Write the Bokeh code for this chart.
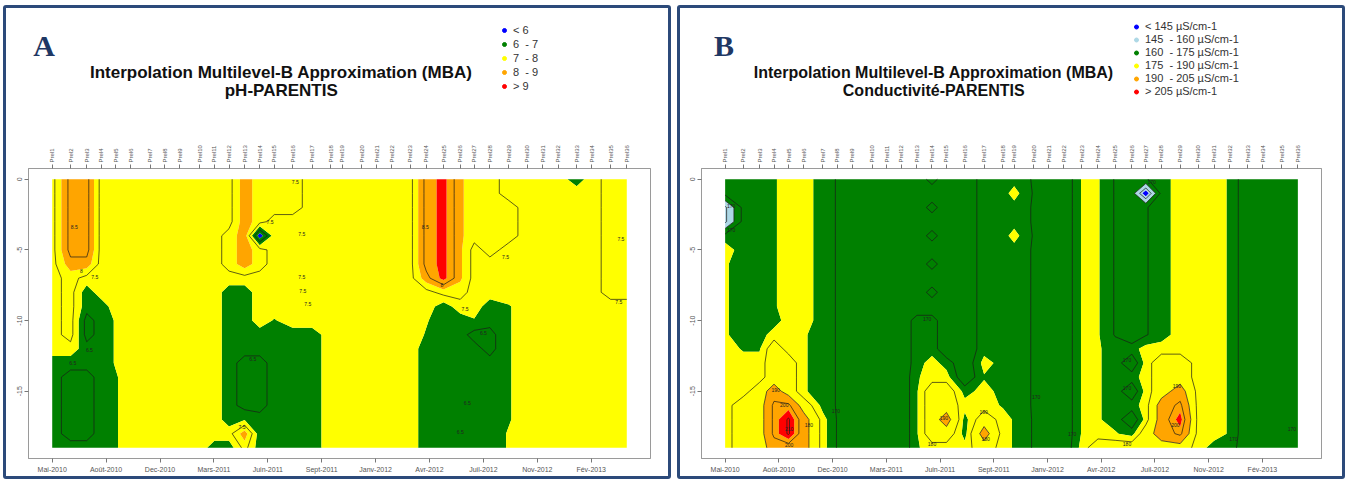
import numpy as np
from bokeh.plotting import figure
from bokeh.models import LinearAxis, FixedTicker, Label, Legend, LegendItem, Range1d
from bokeh.layouts import row, column
from bokeh.embed import file_html
from bokeh.resources import INLINE
from bokeh.core.properties import value

# ---------------- shared axes data ----------------
PROFILE_LABELS = ["Prel1", "Prel2", "Prel3", "Prel4", "Prel5", "Prel6", "Prel7", "Prel8", "Prel9",
                  "Prel10", "Prel11", "Prel12", "Prel13", "Prel14", "Prel15", "Prel16", "Prel17",
                  "Prel18", "Prel19", "Prel20", "Prel21", "Prel22", "Prel23", "Prel24", "Prel25",
                  "Prel26", "Prel27", "Prel28", "Prel29", "Prel30", "Prel31", "Prel32", "Prel33",
                  "Prel34", "Prel35", "Prel36"]
# profile dates, in days after the first tick (Mai-2010)
PROFILE_DAYS = [0, 34, 64, 91, 118, 146, 182, 209, 237, 274, 301, 328, 357, 385, 412, 446, 482, 517,
                538, 574, 602, 630, 664, 694, 726, 757, 783, 812, 847, 881, 910, 939, 973, 1001, 1036, 1066]
DEPTHS = [0, -1, -2, -3, -4, -5, -6, -7, -8, -9, -10, -11, -12, -13, -14, -15, -16, -17, -18, -19]
DATE_TICKS = [0, 100, 200, 300, 400, 500, 600, 700, 800, 900, 1000]
DATE_LABELS = ["Mai-2010", "Août-2010", "Dec-2010", "Mars-2011", "Juin-2011", "Sept-2011",
               "Janv-2012", "Avr-2012", "Juil-2012", "Nov-2012", "Fév-2013"]
DEPTH_TICKS = [0, -5, -10, -15]

# ---------------- panel A : pH ----------------
PH_LEVELS = [5, 6, 7, 8, 9, 10]
PH_COLORS = ["#0000FF", "#008000", "#FFFF00", "#FFA500", "#FF0000"]
PH_LEGEND = ["< 6", "6  - 7", "7  - 8", "8  - 9", "> 9"]
PH_LINE_LEVELS = [6.5, 7.5, 8.5]
PH_CODE = {"b": 5.6, "g": 6.3, "G": 6.7, "h": 6.95, "e": 7.05, "y": 7.3, "Y": 7.7,
           "p": 8.1, "o": 8.3, "O": 8.7, "r": 9.2}
# one string per profile, depth 0 m ... -19 m
PH_PROFILES = [
    "yyyyyyyyyyyyyGGGGGGG",  # Prel1
    "OOOOOOoYYYYYyGgggggG",
    "OOOOOOoyGGggGGgggggG",
    "yyyyyyyyyGGGGGGGGGGG",
    "yyyyyyyyyyeeeehhhhhh",
    "yyyyyyyyyyyyyyyyyyyy",
    "yyyyyyyyyyyyyyyyyyyy",
    "yyyyyyyyyyyyyyyyyyyy",
    "yyyyyyyyyyyyyyyyyyyy",
    "yyyyyyyyyyyyyyyyyyyy",  # Prel10
    "yyyyyyyyyyyyyyyyyyyG",
    "yyyyYYYyGGGGGGGGGGyG",
    "oooooooyGGGGGgggghoY",
    "YYYYbYYyyyyGGggggGGG",
    "YYYyyyyyyyhGGGGGGGGG",
    "YYYyyyyyyyyGGGGGGGGG",
    "yyyyyyyyyyyGGGGGGGGG",
    "yyyyyyyyyyyyyyyyyyyy",
    "yyyyyyyyyyyyyyyyyyyy",
    "yyyyyyyyyyyyyyyyyyyy",  # Prel20
    "yyyyyyyyyyyyyyyyyyyy",
    "yyyyyyyyyyyyyyyyyyyy",
    "yyyyyyyyyyyyyyyyyyyy",
    "OOOOOOOoyyehGGGGGGGG",
    "rrrrrrrrYGGGGGGGGGGG",
    "ppppppppYyGGGGGGGGGG",
    "YYYYYyyyyyhgGGGGGGGG",
    "YYYYYYyyyGGggGGGGGGG",
    "yyYYYyyyyhhhhhhhhhee",
    "yyyyyyyyyyyyyyyyyyyy",  # Prel30
    "yyyyyyyyyyyyyyyyyyyy",
    "yyyyyyyyyyyyyyyyyyyy",
    "Gyyyyyyyyyyyyyyyyyyy",
    "yyyyyyyyyyyyyyyyyyyy",
    "YYYYYYYYYyyyyyyyyyyy",
    "YYYYYYYYYyyyyyyyyyyy",  # Prel36
]
# contour-line labels (day, depth, text)
PH_CL_DAY = [41, 54, 79, 69, 38, 404, 451, 463, 463, 465, 474, 372, 352,
             692, 723, 766, 841, 1055, 1051, 800, 770, 757]
PH_CL_DEPTH = [-3.4, -6.5, -6.9, -12.1, -13.0, -3.0, -0.2, -3.9, -6.9, -7.9, -8.8, -12.7, -17.5,
               -3.4, -7.5, -9.2, -5.5, -4.2, -8.7, -10.9, -15.8, -17.9]
PH_CL_TEXT = ["8.5", "8", "7.5", "6.5", "6.5", "7.5", "7.5", "7.5", "7.5", "7.5", "7.5", "6.5", "7.5",
              "8.5", "8", "7.5", "7.5", "7.5", "7.5", "6.5", "6.5", "6.5"]

# ---------------- panel B : conductivity ----------------
CO_LEVELS = [130, 145, 160, 175, 190, 205, 215]
CO_COLORS = ["#0000FF", "#ADD8E6", "#008000", "#FFFF00", "#FFA500", "#FF0000"]
CO_LEGEND = ["< 145 µS/cm-1", "145  - 160 µS/cm-1", "160  - 175 µS/cm-1",
             "175  - 190 µS/cm-1", "190  - 205 µS/cm-1", "> 205 µS/cm-1"]
CO_LINE_LEVELS = [150, 160, 170, 180, 190, 200, 210]
CO_CODE = {"b": 138, "m": 148, "l": 153, "g": 165, "k": 169.5, "G": 173, "h": 174.5,
           "e": 175.5, "y": 177, "Y": 185, "o": 195, "O": 202, "R": 208, "r": 211}
CO_PROFILES = [
    "GGmmGyeeeeeeyyyyyyyy",  # Prel1
    "GGGGGGGGGGGGhyyyYYYY",
    "GGGGGGGGGGGGhyyYYYYY",
    "hhhhhhhhhhGyYYYoOOOo",
    "yyyyyyyyyyyyyYYYOrro",
    "yyyyyyyyyyyeeeeeYooo",
    "GGGGGGGGGGGGGGGGGyyy",
    "kkkkkkkkkkkkkkkkkkkk",
    "gggggggggggggggggggg",
    "gggggggggggggggggggg",  # Prel10
    "gggggggggggggggggggg",
    "gggggggggggggggggggg",
    "ggggggggggGGGGhhhhhh",
    "GgGgGgGgGgGGGyyYYYYy",
    "gggggggggggggGyYYoYy",
    "gggggggggggggggGyGGy",
    "GGGGGGGGGGGGGyhyyYoY",
    "GGGGGGGGGGGGGGGGhyyy",
    "GyGGyGGGGGGGGGGGGhhh",
    "kkkkkkkkkkkkkkkkkkkk",  # Prel20
    "gggggggggggggggggggg",
    "gggggggggggggggggggg",
    "eeeeeeeeeeeeeeeeeeey",
    "eeeeeeeeeeeeeeeeeeyY",
    "kkkkkkkkkkkkGGGGGGeY",
    "ggggggggggggGgGgGgGY",
    "kbkkkkkkkkkkyyyyyyYY",
    "GGGGGGGGGGGGyYYYoooY",
    "yyyyyyyyyyyyyYYoOROY",
    "yyyyyyyyyyyyyyyyyyyy",  # Prel30
    "yyyyyyyyyyyyyyyyyyyG",
    "hhhhhhhhhhhhhhhhhhhG",
    "gggggggggggggggggggg",
    "gggggggggggggggggggg",
    "gggggggggggggggggggg",
    "gggggggggggggggggggg",  # Prel36
]
CO_CL_DAY = [11, 11, 94, 110, 119, 119, 156, 206, 376, 407, 385, 485, 481,
             794, 748, 748, 748, 841, 838, 579, 646, 946, 1055]
CO_CL_DEPTH = [-1.9, -3.6, -14.9, -16.0, -17.7, -18.8, -17.4, -16.4, -9.9, -16.9, -18.7, -18.4, -16.5,
               -0.2, -12.8, -14.8, -18.7, -14.6, -17.4, -15.4, -18.0, -18.4, -17.7]
CO_CL_TEXT = ["170", "170", "190", "200", "210", "200", "180", "170", "170", "190", "180", "180", "190",
              "170", "170", "170", "180", "190", "200", "170", "170", "170", "170"]

XR = (-44, 1110)
YR = (-19.76, 0.76)
FIG_W = 662
HEAD_H = 130
MAIN_H = 338
FONT = "Liberation Sans"


def grid(profiles, code):
    z = np.array([[code[c] for c in col] for col in profiles], dtype=float).T  # (depth, profile)
    y = np.array(DEPTHS, dtype=float)
    order = np.argsort(y)
    return np.array(PROFILE_DAYS, dtype=float), y[order], z[order]


def make_header(letter, subtitle, letter_c, title_cx, title_fs, legend_labels, colors,
                legend_lt, row_h):
    # pixel-like coordinates: x from panel's inner left, y from panel's inner top
    h = figure(width=FIG_W, height=HEAD_H, x_range=Range1d(0, FIG_W), y_range=Range1d(HEAD_H, 0),
               output_backend="svg", toolbar_location=None, tools="", min_border=0,
               min_border_left=0, min_border_right=0, min_border_top=0, min_border_bottom=0,
               x_axis_type=None, y_axis_type=None)
    h.outline_line_color = None
    h.grid.visible = False
    h.background_fill_color = "white"
    h.border_fill_color = "white"
    h.add_layout(Label(x=letter_c[0], y=letter_c[1], text=letter,
                       text_align="center", text_baseline="middle",
                       text_font="Liberation Serif", text_font_size="30px",
                       text_font_style="bold", text_color="#1f3864"))
    for txt, py in (("Interpolation Multilevel-B Approximation (MBA)", 64), (subtitle, 82)):
        h.add_layout(Label(x=title_cx, y=py, text=txt,
                           text_align="center", text_baseline="middle",
                           text_font=FONT, text_font_size=title_fs,
                           text_font_style="bold", text_color="#111111"))
    items = []
    for lab, col in zip(legend_labels, colors):
        r = h.scatter(x=[np.nan], y=[np.nan], marker="circle", size=5,
                      fill_color=col, line_color=col)
        items.append(LegendItem(label=value(lab), renderers=[r]))
    n = len(legend_labels)
    left, top = legend_lt
    leg = Legend(items=items, location=(left, HEAD_H - (top + n * row_h)),
                 orientation="vertical", border_line_color=None, background_fill_alpha=0,
                 padding=0, margin=0, spacing=0,
                 glyph_width=10, glyph_height=row_h, label_height=row_h,
                 label_standoff=4, label_text_font=FONT, label_text_font_size="11px",
                 label_text_color="#333333")
    h.add_layout(leg)
    return h


def make_main(profiles, code, levels, colors, line_levels, border_lr, cl_day, cl_depth, cl_text):
    p = figure(width=FIG_W, height=MAIN_H, x_range=Range1d(*XR), y_range=Range1d(*YR),
               output_backend="svg", toolbar_location=None, tools="",
               min_border_left=border_lr[0], min_border_right=border_lr[1],
               min_border_top=30, min_border_bottom=18)
    p.xgrid.visible = False
    p.ygrid.visible = False
    p.outline_line_color = "#9a9a9a"
    p.outline_line_width = 1
    p.background_fill_color = "white"
    p.border_fill_color = "white"

    x, y, z = grid(profiles, code)
    p.contour(x, y, z, levels=levels, fill_color=colors)
    p.contour(x, y, z, levels=line_levels, line_color="#1a1a1a", line_width=0.7)
    p.text(x=cl_day, y=cl_depth, text=cl_text, text_font=value(FONT),
           text_font_size=value("5px"), text_align="center", text_baseline="middle",
           text_color="#222222")

    xa = p.xaxis[0]
    xa.ticker = FixedTicker(ticks=DATE_TICKS)
    xa.major_label_overrides = {t: lab for t, lab in zip(DATE_TICKS, DATE_LABELS)}
    ya = p.yaxis[0]
    ya.ticker = FixedTicker(ticks=DEPTH_TICKS)
    ya.major_label_overrides = {t: str(t) for t in DEPTH_TICKS}
    ya.major_label_orientation = "vertical"
    ta = LinearAxis(ticker=FixedTicker(ticks=PROFILE_DAYS),
                    major_label_overrides={d: lab for d, lab in zip(PROFILE_DAYS, PROFILE_LABELS)})
    ta.major_label_orientation = "vertical"
    p.add_layout(ta, "above")
    for ax, fs in ((xa, "7px"), (ya, "7px"), (ta, "6px")):
        ax.axis_line_color = "#9a9a9a"
        ax.major_tick_line_color = "#777777"
        ax.minor_tick_line_color = None
        ax.major_tick_out = 4
        ax.major_tick_in = 0
        ax.major_label_standoff = 2
        ax.major_label_text_font = FONT
        ax.major_label_text_font_size = fs
        ax.major_label_text_color = "#555555"
    xa.major_label_standoff = 3
    return p


hA = make_header("A", "pH-PARENTIS", (16.5, 37), 269, "17px", PH_LEGEND, PH_COLORS, (471, 15), 14)
pA = make_main(PH_PROFILES, PH_CODE, PH_LEVELS, PH_COLORS, PH_LINE_LEVELS, (22, 18),
               PH_CL_DAY, PH_CL_DEPTH, PH_CL_TEXT)
hB = make_header("B", "Conductivité-PARENTIS", (24, 37), 248, "16px", CO_LEGEND, CO_COLORS,
                 (430, 11.5), 13)
pB = make_main(CO_PROFILES, CO_CODE, CO_LEVELS, CO_COLORS, CO_LINE_LEVELS, (21, 21),
               CO_CL_DAY, CO_CL_DEPTH, CO_CL_TEXT)

box = {"border": "3px solid #2c4a7a", "border-radius": "3px"}
layout = row(column(hA, pA, styles=box), column(hB, pB, styles=box), spacing=6,
             styles={"margin-left": "3px", "margin-top": "5px"})

open("out.html", "w").write(file_html(layout, INLINE))
